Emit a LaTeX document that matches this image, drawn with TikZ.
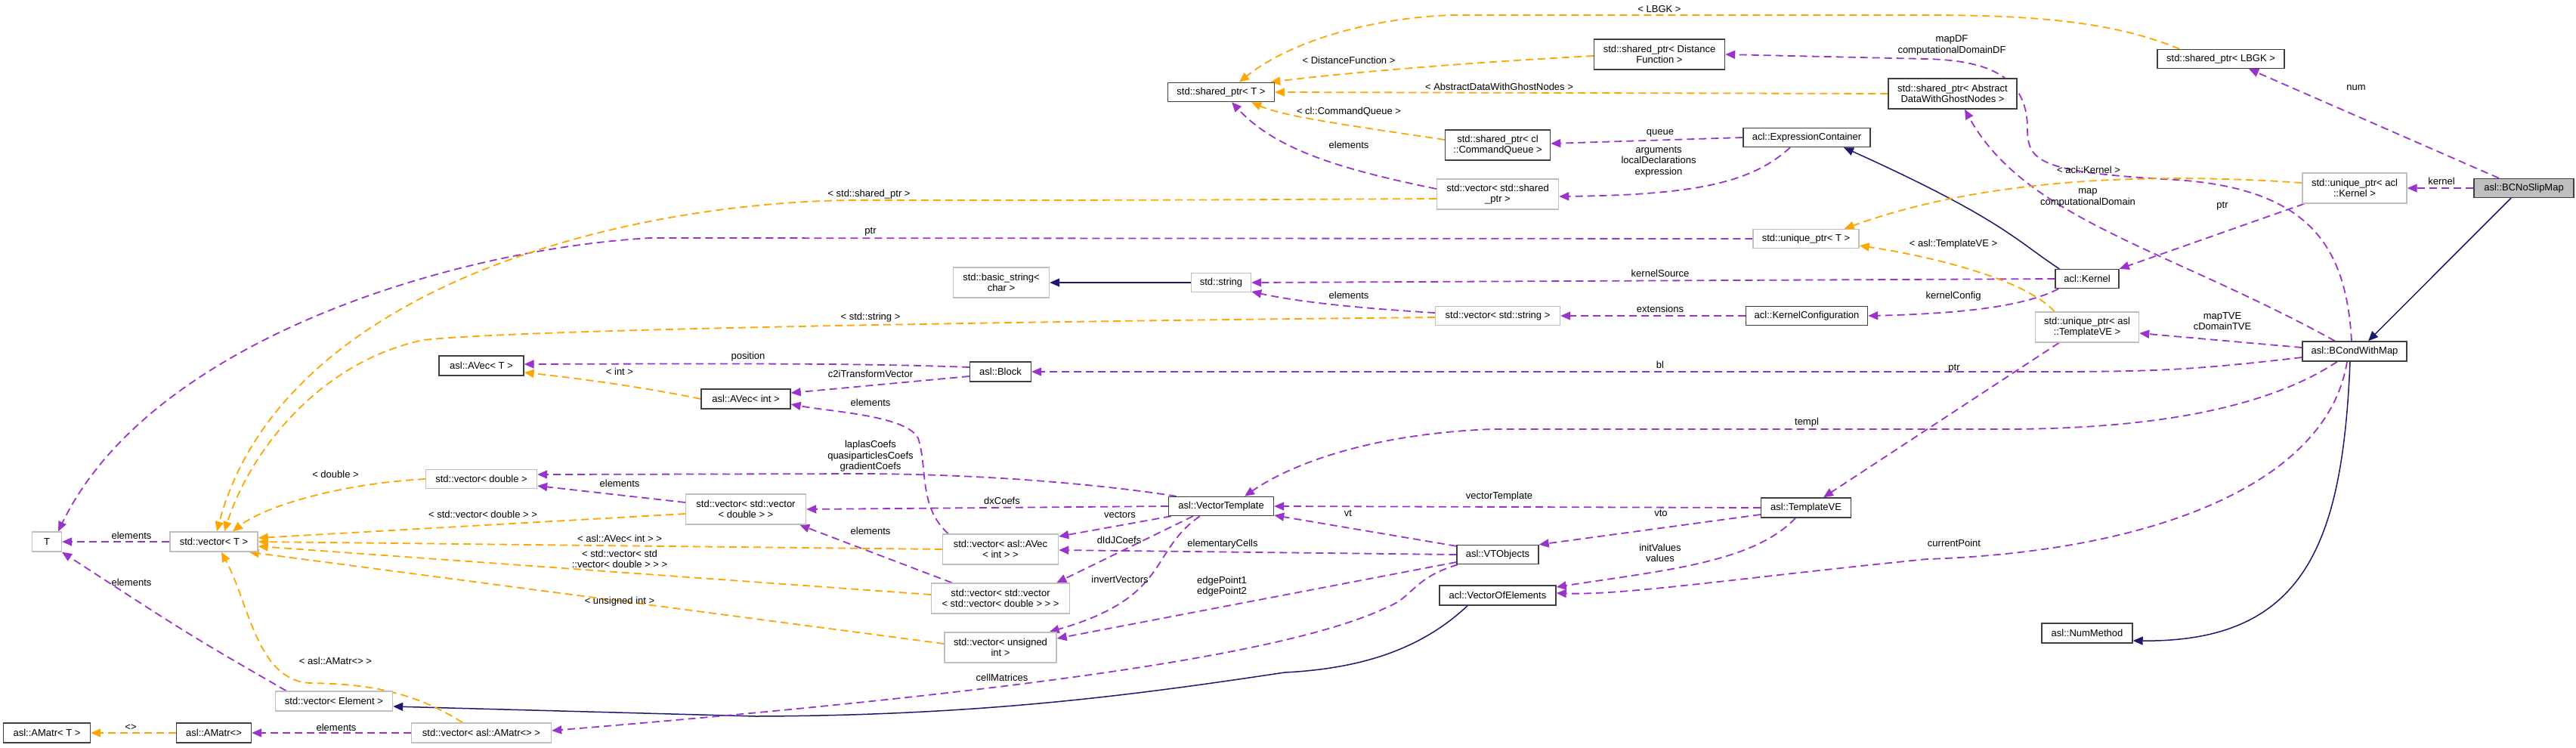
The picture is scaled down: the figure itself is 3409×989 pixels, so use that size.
\documentclass[tikz,border=0pt]{standalone}
\usepackage{fontspec}
\setmainfont{Liberation Sans}
\usepackage{tikz}
\usetikzlibrary{arrows.meta,calc,backgrounds}
\definecolor{dgPurple}{HTML}{9A32CD}
\definecolor{dgOrange}{HTML}{FFA500}
\definecolor{dgNavy}{HTML}{191970}
\definecolor{dgGrey}{HTML}{BFBFBF}
\definecolor{dgFrame}{HTML}{404040}
\newcommand{\dgfont}{\fontsize{13}{14.5}\selectfont}

\begin{document}
\begin{tikzpicture}[x=1pt, y=-1pt, font=\dgfont, >={Triangle[length=13pt,width=11pt]},
  cls/.style={draw=dgFrame, line width=1.4pt, fill=white, inner sep=0pt, align=center},
  ext/.style={cls, draw=dgGrey},
  sz/.style 2 args={minimum width=#1pt, minimum height=#2pt},
  usedge/.style={dgPurple, line width=1.8pt, dash pattern=on 10pt off 6pt, ->},
  tpledge/.style={usedge, dgOrange},
  inhedge/.style={dgNavy, line width=1.5pt, ->},
  lbl/.style={inner sep=0pt, align=center}]
\useasboundingbox (0,0) rectangle (3409,989);
% ---------- classes ----------
\node[cls, sz={132}{25}, fill=dgGrey] (nslip) at (3340,249) {asl::BCNoSlipMap};
\node[cls, sz={168}{25}] (lbgk) at (2939,78) {std::shared\_ptr< LBGK >};
\node[ext, sz={138}{40}] (uker) at (3116,249) {std::unique\_ptr< acl\\::Kernel >};
\node[cls, sz={138}{26}] (bcond) at (3116,465) {asl::BCondWithMap};
\node[cls, sz={120}{26}] (nummeth) at (2762,838) {asl::NumMethod};
\node[ext, sz={137}{40}] (utve) at (2762,433) {std::unique\_ptr< asl\\::TemplateVE >};
\node[cls, sz={84}{25}] (kern) at (2762,369) {acl::Kernel};
\node[cls, sz={170}{40}] (sdwgn) at (2584,124) {std::shared\_ptr< Abstract\\DataWithGhostNodes >};
\node[cls, sz={168}{25}] (expr) at (2391,182) {acl::ExpressionContainer};
\node[ext, sz={140}{25}] (uptr) at (2390,316) {std::unique\_ptr< T >};
\node[cls, sz={161}{25}] (kconf) at (2391,418) {acl::KernelConfiguration};
\node[cls, sz={119}{26}] (tve) at (2390,672) {asl::TemplateVE};
\node[cls, sz={173}{40}] (sdf) at (2196,72) {std::shared\_ptr< Distance\\Function >};
\node[cls, sz={139}{40}] (scq) at (1982,192) {std::shared\_ptr< cl\\::CommandQueue >};
\node[ext, sz={161}{40}] (vsp) at (1982,257) {std::vector< std::shared\\\_ptr >};
\node[ext, sz={165}{25}] (vstr) at (1982,418) {std::vector< std::string >};
\node[cls, sz={108}{25}] (vto) at (1982,734) {asl::VTObjects};
\node[cls, sz={154}{26}] (voe) at (1982,788) {acl::VectorOfElements};
\node[cls, sz={141}{25}] (sptr) at (1616,122) {std::shared\_ptr< T >};
\node[ext, sz={79}{25}] (str) at (1616,374) {std::string};
\node[cls, sz={139}{25}] (vtempl) at (1616,670) {asl::VectorTemplate};
\node[ext, sz={127}{40}] (bstr) at (1325,374) {std::basic\_string<\\char >};
\node[cls, sz={81}{26}] (block) at (1324,492) {asl::Block};
\node[ext, sz={153}{40}] (vavec) at (1324,727) {std::vector< asl::AVec\\< int > >};
\node[ext, sz={183}{40}] (vvvd) at (1324,792) {std::vector< std::vector\\< std::vector< double > > >};
\node[ext, sz={148}{40}] (vuint) at (1324,857) {std::vector< unsigned\\int >};
\node[cls, sz={118}{26}] (aveci) at (987,528) {asl::AVec< int >};
\node[ext, sz={159}{40}] (vvd) at (987,674) {std::vector< std::vector\\< double > >};
\node[cls, sz={112}{26}] (avect) at (637,484) {asl::AVec< T >};
\node[ext, sz={147}{25}] (vdbl) at (637,634) {std::vector< double >};
\node[ext, sz={155}{26}] (vel) at (442,928) {std::vector< Element >};
\node[ext, sz={185}{26}] (vamatr) at (637,970) {std::vector< asl::AMatr<> >};
\node[ext, sz={116}{26}] (vect) at (283,717) {std::vector< T >};
\node[cls, sz={99}{26}] (amatr) at (283,970) {asl::AMatr<>};
\node[ext, sz={39}{26}] (tnode) at (62,717) {T};
\node[cls, sz={115}{26}] (amatrt) at (62,970) {asl::AMatr< T >};
% ---------- edge labels ----------
\node[lbl] (lKernel) at (3231,240) {kernel};
\node[lbl] (lNum) at (3118,116) {num};
\node[lbl] (lMapTVE) at (2941,425) {mapTVE\\cDomainTVE};
\node[lbl] (lBl) at (2197,483) {bl};
\node[lbl] (lTempl) at (2391,559) {templ};
\node[lbl] (lCurrent) at (2586,719) {currentPoint};
\node[lbl] (lMap) at (2763,262) {map\\computationalDomain};
\node[lbl] (lMapDF) at (2583,60) {mapDF\\computationalDomainDF};
\node[lbl] (lAclKernel) at (2764,225) {< acl::Kernel >};
\node[lbl] (lTemplVE) at (2585,323) {< asl::TemplateVE >};
\node[lbl] (lPtrKern) at (2941,273) {ptr};
\node[lbl] (lPtrTVE) at (2586,488) {ptr};
\node[lbl] (lKSource) at (2197,362) {kernelSource};
\node[lbl] (lKConfig) at (2585,392) {kernelConfig};
\node[lbl] (lExt) at (2197,409) {extensions};
\node[lbl] (lElStr) at (1785,391) {elements};
\node[lbl] (lStdStr) at (1152,420) {< std::string >};
\node[lbl] (lQueue) at (2197,176) {queue};
\node[lbl] (lArgs) at (2195,214) {arguments\\localDeclarations\\expression};
\node[lbl] (lElSp) at (1785,192) {elements};
\node[lbl] (lStdSp) at (1150,257) {< std::shared\_ptr >};
\node[lbl] (lCQ) at (1785,148) {< cl::CommandQueue >};
\node[lbl] (lDF) at (1785,80) {< DistanceFunction >};
\node[lbl] (lADW) at (1984,115) {< AbstractDataWithGhostNodes >};
\node[lbl] (lLBGK) at (2196,12) {< LBGK >};
\node[lbl] (lPtrT) at (1152,307) {ptr};
\node[lbl] (lPos) at (990,472) {position};
\node[lbl] (lC2i) at (1152,495) {c2iTransformVector};
\node[lbl] (lInt) at (820,492) {< int >};
\node[lbl] (lElAv) at (1152,533) {elements};
\node[lbl] (lLaplas) at (1152,604) {laplasCoefs\\quasiparticlesCoefs\\gradientCoefs};
\node[lbl] (lDx) at (1326,663) {dxCoefs};
\node[lbl] (lVectors) at (1482,681) {vectors};
\node[lbl] (lDIdJ) at (1481,715) {dIdJCoefs};
\node[lbl] (lInvert) at (1482,767) {invertVectors};
\node[lbl] (lDouble) at (444,628) {< double >};
\node[lbl] (lElVd) at (820,640) {elements};
\node[lbl] (lVecD) at (639,681) {< std::vector< double > >};
\node[lbl] (lElVvd) at (1152,703) {elements};
\node[lbl] (lAVecInt) at (820,713) {< asl::AVec< int > >};
\node[lbl] (lVecVecD) at (820,740) {< std::vector< std\\::vector< double > > >};
\node[lbl] (lUInt) at (820,796) {< unsigned int >};
\node[lbl] (lElT) at (174,709) {elements};
\node[lbl] (lElEl) at (174,771) {elements};
\node[lbl] (lAMatr) at (444,875) {< asl::AMatr<> >};
\node[lbl] (lElAm) at (445,963) {elements};
\node[lbl] (lEmpty) at (173,963) {<>};
\node[lbl] (lVt) at (1784,679) {vt};
\node[lbl] (lElCells) at (1618,720) {elementaryCells};
\node[lbl] (lEdge) at (1617,776) {edgePoint1\\edgePoint2};
\node[lbl] (lCell) at (1326,897) {cellMatrices};
\node[lbl] (lVTempl) at (1984,657) {vectorTemplate};
\node[lbl] (lVto) at (2198,679) {vto};
\node[lbl] (lInit) at (2197,732) {initValues\\values};
\begin{scope}[on background layer]
% ---------- inheritance ----------
\draw[inhedge] ($(nslip.south)+(-17,0)$) -- ($(bcond.north)+(18,0)$);
\draw[inhedge] ($(bcond.south)+(-6,0)$) .. controls (3100,720) and (3050,850) .. ($(nummeth.east)+(0,10)$);
\draw[inhedge] ($(kern.north west)+(6,0)$) .. controls (2670,320) and (2650,290) .. ($(expr.south)+(49,0)$);
\draw[inhedge] (str.west) -- (bstr.east);
\draw[inhedge] ($(voe.south)+(-40,0)$) .. controls (1880,860) and (1800,885) .. (1700,890) .. controls (1500,920) and (1300,947) .. (1000,948) -- ($(vel.east)+(0,7)$);
% ---------- usage ----------
\draw[usedge] (nslip.west) -- (uker.east);
\draw[usedge] ($(nslip.north)+(-33,0)$) -- ($(lbgk.south)+(37,0)$);
\draw[usedge] ($(bcond.west)+(0,-5)$) -- ($(utve.east)+(0,8)$);
\draw[usedge] ($(bcond.west)+(0,8)$) .. controls (2900,490) and (2850,492) .. (2700,492) -- (block.east);
\draw[usedge] ($(bcond.south)+(-23,0)$) .. controls (3000,540) and (2850,568) .. (2650,568) -- (1974,568) .. controls (1800,575) and (1700,620) .. ($(vtempl.north)+(31,0)$);
\draw[usedge] ($(bcond.south)+(-10,0)$) .. controls (3080,640) and (2850,730) .. (2550,740) .. controls (2300,765) and (2150,788) .. ($(voe.east)+(0,-3)$);
\draw[usedge] ($(bcond.north)+(-26,0)$) .. controls (2870,330) and (2680,290) .. ($(sdwgn.south)+(16,0)$);
\draw[usedge] ($(bcond.north)+(-4,0)$) .. controls (3105,330) and (3060,250) .. (2880,238) .. controls (2700,228) and (2683,215) .. (2683,170) .. controls (2683,95) and (2620,80) .. (2550,78) -- (sdf.east);
\draw[usedge] ($(uker.south west)+(3,0)$) -- (kern.north east);
\draw[usedge] (kern.west) -- (str.east);
\draw[usedge] ($(kern.south west)+(5,0)$) .. controls (2680,405) and (2600,415) .. (kconf.east);
\draw[usedge] (kconf.west) -- (vstr.east);
\draw[usedge] ($(vstr.west)+(0,-4)$) .. controls (1800,408) and (1720,400) .. ($(str.east)+(0,12)$);
\draw[usedge] (expr.west) -- ($(scq.east)+(0,-2)$);
\draw[usedge] ($(expr.south)+(-22,0)$) .. controls (2320,240) and (2250,258) .. ($(vsp.east)+(0,3)$);
\draw[usedge] ($(vsp.west)+(0,-7)$) .. controls (1780,225) and (1690,200) .. ($(sptr.south)+(14,0)$);
\draw[usedge] (uptr.west) -- (860,315) .. controls (600,330) and (200,450) .. ($(tnode.north)+(15,0)$);
\draw[usedge] ($(block.west)+(0,-6)$) .. controls (1150,481) and (1000,481) .. ($(avect.east)+(0,-2)$);
\draw[usedge] ($(block.west)+(0,6)$) -- ($(aveci.east)+(0,-8)$);
\draw[usedge] ($(vavec.north west)+(8,0)$) .. controls (1215,670) and (1228,620) .. (1215,580) .. controls (1200,550) and (1100,545) .. ($(aveci.east)+(0,7)$);
\draw[usedge] ($(vtempl.north west)+(11,0)$) .. controls (1450,640) and (1300,628) .. (1150,627) -- ($(vdbl.east)+(0,-6)$);
\draw[usedge] (vtempl.west) -- (vvd.east);
\draw[usedge] ($(vtempl.south west)+(4,0)$) -- ($(vavec.east)+(0,-17)$);
\draw[usedge] ($(vtempl.south west)+(33,0)$) -- ($(vvvd.north east)+(-18,0)$);
\draw[usedge] ($(vtempl.south west)+(42,0)$) .. controls (1520,730) and (1550,790) .. ($(vuint.north east)+(-10,0)$);
\draw[usedge] ($(vvd.west)+(0,-9)$) -- ($(vdbl.east)+(0,9)$);
\draw[usedge] ($(vvvd.north west)+(28,0)$) -- ($(vvd.south east)+(-9,0)$);
\draw[usedge] (vect.west) -- (tnode.east);
\draw[usedge] ($(vel.north west)+(15,0)$) .. controls (250,840) .. ($(tnode.south)+(20,0)$);
\draw[usedge] (vamatr.west) -- (amatr.east);
\draw[usedge] ($(vto.north west)+(0,2)$) -- ($(vtempl.east)+(0,12)$);
\draw[usedge] (vto.west) -- ($(vavec.east)+(0,1)$);
\draw[usedge] ($(vto.west)+(0,10)$) -- ($(vuint.east)+(0,-12)$);
\draw[usedge] ($(vto.south west)+(2,0)$) .. controls (1870,765) and (1870,790) .. (1837,803) .. controls (1700,870) and (1300,920) .. ($(vamatr.east)+(0,-3)$);
\draw[usedge] (tve.west) -- (vtempl.east);
\draw[usedge] ($(tve.west)+(0,9)$) -- (vto.north east);
\draw[usedge] ($(tve.south)+(-14,0)$) .. controls (2320,745) and (2200,755) .. ($(voe.east)+(0,-11)$);
\draw[usedge] ($(utve.south west)+(32,0)$) -- ($(tve.north)+(23,0)$);
% ---------- template instances ----------
\draw[tpledge] ($(uker.west)+(0,-7)$) .. controls (2800,225) and (2600,245) .. ($(uptr.north east)+(-20,0)$);
\draw[tpledge] ($(utve.north west)+(26,0)$) .. controls (2680,370) and (2560,340) .. ($(uptr.east)+(0,9)$);
\draw[tpledge] ($(vstr.west)+(0,2)$) .. controls (1400,425) and (700,435) .. (560,450) .. controls (420,480) and (330,600) .. ($(vect.north)+(14,0)$);
\draw[tpledge] ($(vsp.west)+(0,6)$) .. controls (1500,265) .. (1124,265) .. controls (800,270) and (370,390) .. ($(vect.north)+(4,0)$);
\draw[tpledge] ($(scq.west)+(0,-7)$) .. controls (1800,168) and (1700,155) .. ($(sptr.south east)+(-31,0)$);
\draw[tpledge] ($(sdf.west)+(0,2)$) .. controls (1900,85) and (1750,100) .. ($(sptr.north east)+(-6,0)$);
\draw[tpledge] (sdwgn.west) -- (sptr.east);
\draw[tpledge] ($(lbgk.north west)+(30,0)$) .. controls (2800,30) and (2700,20) .. (2550,20) -- (1919,20) .. controls (1800,25) and (1700,60) .. ($(sptr.north)+(24,0)$);
\draw[tpledge] (aveci.west) .. controls (850,512) and (760,500) .. ($(avect.east)+(0,9)$);
\draw[tpledge] (vdbl.west) .. controls (450,640) and (350,670) .. ($(vect.north)+(25,0)$);
\draw[tpledge] ($(vvd.west)+(0,6)$) -- ($(vect.east)+(0,-5)$);
\draw[tpledge] (vavec.west) -- (vect.east);
\draw[tpledge] ($(vvvd.west)+(0,-5)$) -- ($(vect.east)+(0,6)$);
\draw[tpledge] ($(vuint.west)+(0,-5)$) -- ($(vect.south east)+(-12,0)$);
\draw[tpledge] ($(vamatr.north)+(-25,0)$) .. controls (540,910) and (470,905) .. (410,904) .. controls (340,900) and (330,800) .. ($(vect.south)+(10,0)$);
\draw[tpledge] (amatr.west) -- (amatrt.east);
\end{scope}
\end{tikzpicture}
\end{document}
